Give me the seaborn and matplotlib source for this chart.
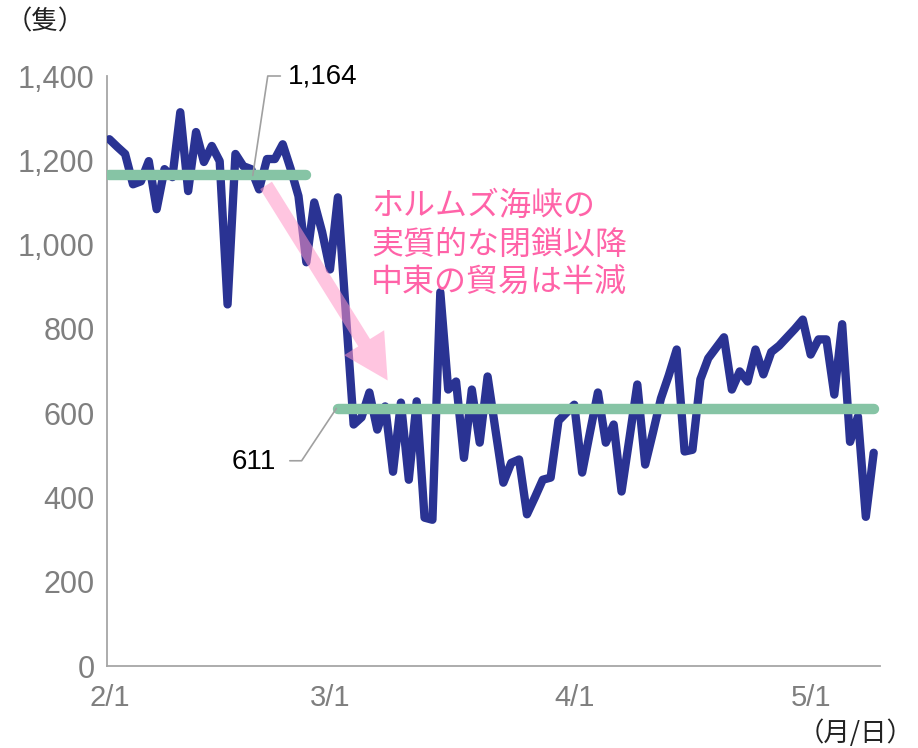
import matplotlib
matplotlib.use("Agg")
import matplotlib.pyplot as plt
import matplotlib.dates as mdates
from matplotlib.patches import FancyArrowPatch
import pandas as pd
import seaborn as sns

# Daily count of ships (2/1 - 5/9)
start_date = "2026-02-01"
ship_counts = [
    1250, 1232, 1215, 1143, 1150, 1198, 1084, 1179, 1160, 1314,
    1127, 1267, 1196, 1234, 1198, 858, 1215, 1186, 1179, 1131,
    1203, 1203, 1238, 1180, 1115, 958, 1100, 1030, 941, 1112,
    840, 573, 590, 649, 561, 616, 461, 625, 442, 628,
    352, 347, 887, 656, 675, 494, 656, 530, 687, 560,
    435, 482, 490, 360, 400, 442, 447, 582, 601, 620,
    459, 555, 649, 530, 573, 414, 540, 668, 478, 555,
    635, 690, 751, 509, 513, 680, 730, 755, 780, 656,
    699, 675, 751, 692, 745, 760, 780, 800, 822, 739,
    775, 775, 644, 811, 532, 592, 354, 506,
]

# Period averages
avg_before = 1164
avg_after = 611
before_span = ["2026-02-01", "2026-02-26"]
after_span = ["2026-03-02", "2026-05-09"]

tick_dates = ["2026-02-01", "2026-03-01", "2026-04-01", "2026-05-01"]
tick_labels = ["2/1", "3/1", "4/1", "5/1"]
y_ticks = [0, 200, 400, 600, 800, 1000, 1200, 1400]

sns.set_style("white")
plt.rcParams["font.family"] = ["Liberation Sans", "Noto Sans CJK JP", "DejaVu Sans"]

dates = pd.date_range(start_date, periods=len(ship_counts), freq="D")
df = pd.DataFrame({"date": dates, "ships": ship_counts})

fig = plt.figure(figsize=(9.18, 7.48), dpi=100)
ax = fig.add_axes([107 / 918, 1 - 666 / 748, (880 - 107) / 918, (666 - 76) / 748])

BLUE = "#2a3393"
GREEN = "#86c4a5"
PINK_TEXT = "#ff63a8"
AXIS_GRAY = "#a6a6a6"
LABEL_GRAY = "#7f7f7f"

sns.lineplot(data=df, x="date", y="ships", color=BLUE, lw=6.0,
             solid_joinstyle="round", solid_capstyle="round", ax=ax, zorder=3)

avg_df = pd.DataFrame({
    "date": pd.to_datetime(before_span + after_span),
    "ships": [avg_before, avg_before, avg_after, avg_after],
    "period": ["before", "before", "after", "after"],
})
for _, seg in avg_df.groupby("period"):
    sns.lineplot(data=seg, x="date", y="ships", color=GREEN, lw=7.5,
                 solid_capstyle="round", ax=ax, zorder=4)

t0 = mdates.date2num(pd.Timestamp(start_date))


def day(d):
    return t0 + d


ax.set_xlim(day(-0.3), day(97.8))
ax.set_ylim(0, 1400)
ax.set_yticks(y_ticks)
ax.set_yticklabels([f"{v:,}" for v in y_ticks])
ax.set_xticks([mdates.date2num(pd.Timestamp(d)) for d in tick_dates])
ax.set_xticklabels(tick_labels)
ax.set_xlabel("")
ax.set_ylabel("")

for side in ["top", "right"]:
    ax.spines[side].set_visible(False)
for side in ["left", "bottom"]:
    ax.spines[side].set_color(AXIS_GRAY)
    ax.spines[side].set_linewidth(1.3)

ax.tick_params(axis="y", length=0, pad=9, labelsize=22, labelcolor=LABEL_GRAY)
ax.tick_params(axis="x", direction="out", length=5, width=1.3, color=AXIS_GRAY,
               pad=8, labelsize=21, labelcolor=LABEL_GRAY)

# Average-value callouts
ax.plot([day(21.7), day(20.1), day(18.2)], [1400, 1400, avg_before],
        color="#a0a0a0", lw=1.2, clip_on=False, zorder=5)
ax.text(day(22.6), 1398, f"{avg_before:,}", ha="left", va="center",
        fontsize=20, color="black")

ax.plot([day(22.9), day(24.4), day(28.8)], [487, 487, avg_after],
        color="#a0a0a0", lw=1.2, clip_on=False, zorder=5)
ax.text(day(21.2), 483, f"{avg_after:,}", ha="right", va="center",
        fontsize=20, color="black")

# Trend arrow
arrow = FancyArrowPatch(
    (day(19.7), 1146), (day(35.5), 672),
    arrowstyle="simple,head_length=32,head_width=34,tail_width=10",
    mutation_scale=1, color="#ff96c8", alpha=0.55, lw=0, zorder=6,
)
ax.add_patch(arrow)

ax.text(day(33.2), 1000, "ホルムズ海峡の\n実質的な閉鎖以降\n中東の貿易は半減",
        ha="left", va="center", fontsize=23, color=PINK_TEXT,
        linespacing=1.27, family=["Noto Sans CJK JP", "DejaVu Sans"])

# Unit labels
fig.text(6 / 918, 1 - 22 / 748, "（隻）", ha="left", va="center", fontsize=19,
         color="#222222", family=["Noto Sans CJK JP", "DejaVu Sans"])
fig.text(914 / 918, 1 - 733 / 748, "（月/日）", ha="right", va="center", fontsize=19,
         color="#222222", family=["Noto Sans CJK JP", "DejaVu Sans"])

fig.savefig("out.png", dpi=100)
